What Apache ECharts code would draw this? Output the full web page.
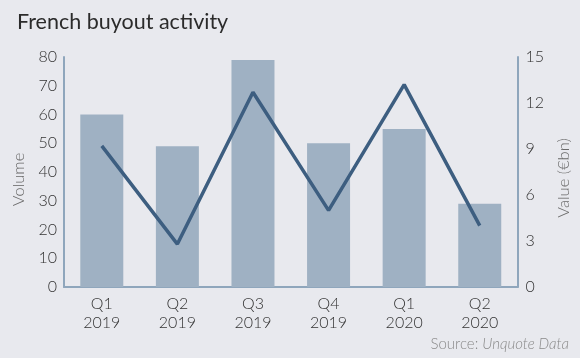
<!DOCTYPE html>
<html><head><meta charset="utf-8">
<script src="https://cdn.jsdelivr.net/npm/echarts@6/dist/echarts.min.js"></script>
<style>html,body{margin:0;padding:0;background:#e8e9ee;}#c{width:580px;height:358px;}</style>
</head><body><div id="c"></div>
<script>
const categories = ['Q1\n2019','Q2\n2019','Q3\n2019','Q4\n2019','Q1\n2020','Q2\n2020'];
const volume = [60, 49, 79, 50, 55, 29];
const value = [9.2, 2.8, 12.7, 5.0, 13.2, 4.0];
const leftTicks = [0, 80, 10];
const rightTicks = [0, 15, 3];

const chart = echarts.init(document.getElementById('c'), null, {renderer:'canvas'});
const font = 'Lato, "Open Sans", sans-serif';
const axisLine = {show:true, lineStyle:{color:'#8fa6bc', width:2}};
const lbl = {fontFamily:font, fontSize:16, fontWeight:300, color:'#333'};
chart.setOption({
  backgroundColor:'#e8e9ee',
  animation:false,
  title:[{text:'French buyout activity', left:12, top:6, textStyle:{fontFamily:font, fontSize:21.5, fontWeight:'normal', color:'#2b2b2b'}},
         {text:'{a|Source: }{b|Unquote Data}', right:6, top:332, textStyle:{rich:{a:{fontFamily:font,fontSize:15,fontWeight:300,color:'#8a8a8a'},b:{fontFamily:font,fontSize:15,fontWeight:300,color:'#8a8a8a',fontStyle:'italic'}}}}],
  grid:{left:64, right:51, top:57, bottom:71},
  xAxis:{type:'category', data:categories, axisLine:axisLine, axisTick:{show:false},
    axisLabel:Object.assign({lineHeight:19, margin:7}, lbl)},
  yAxis:[
    {type:'value', min:leftTicks[0], max:leftTicks[1], interval:leftTicks[2], splitLine:{show:false}, axisLine:axisLine, axisTick:{show:false},
     axisLabel:Object.assign({margin:7}, lbl),
     name:'Volume', nameLocation:'middle', nameGap:35, nameTextStyle:{fontFamily:font, fontSize:16.5, fontWeight:300, color:'#6a6a6a', padding:[0,15,0,0]}},
    {type:'value', min:rightTicks[0], max:rightTicks[1], interval:rightTicks[2], splitLine:{show:false}, axisLine:axisLine, axisTick:{show:false},
     axisLabel:Object.assign({margin:8}, lbl),
     name:'Value (€bn)', nameLocation:'middle', nameGap:33, nameRotate:90, nameTextStyle:{fontFamily:font, fontSize:16.5, fontWeight:300, color:'#6a6a6a', padding:[0,12,0,0]}}
  ],
  series:[
    {type:'bar', data:volume, barWidth:43, itemStyle:{color:'#9fb1c3'}, yAxisIndex:0},
    {type:'line', data:value, yAxisIndex:1, symbol:'none', lineStyle:{color:'#3d5e80', width:3.5}}
  ]
});
</script></body></html>
